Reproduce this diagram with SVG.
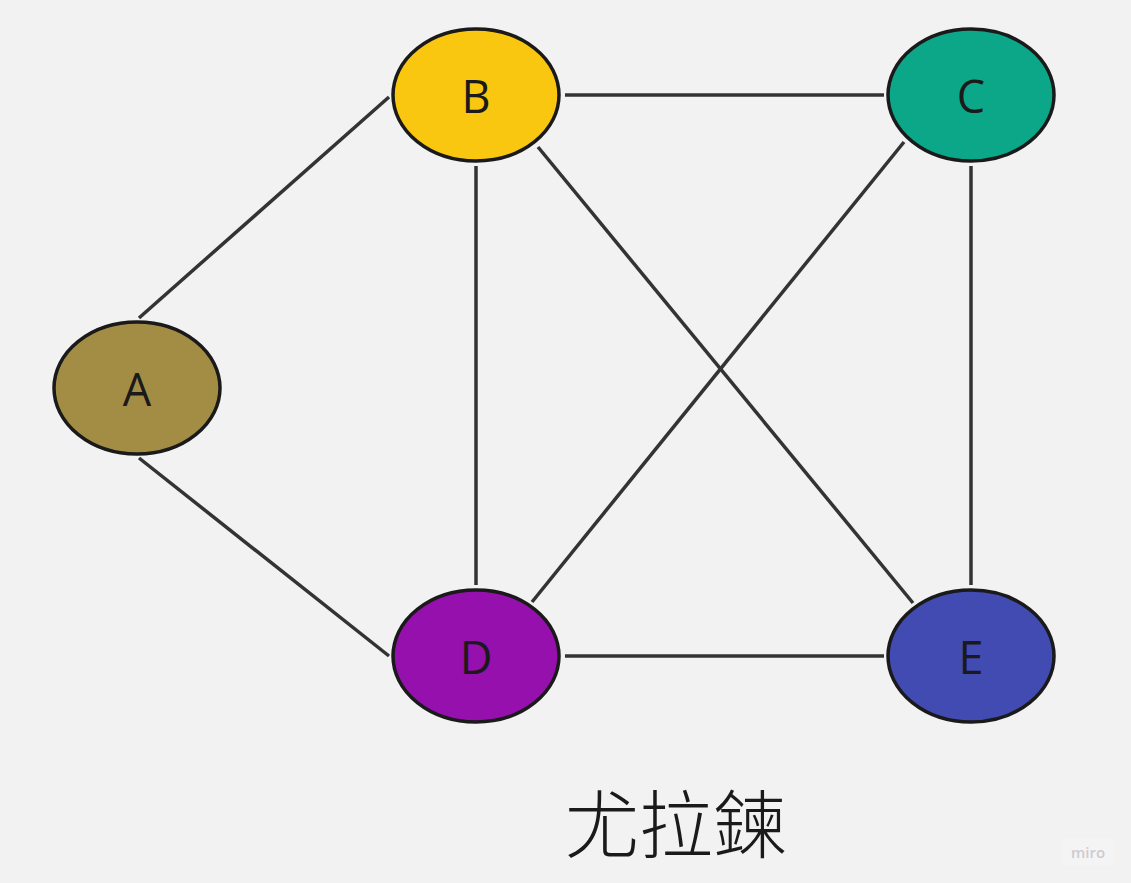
<svg xmlns="http://www.w3.org/2000/svg" width="1131" height="883" viewBox="0 0 1131 883">
<style>
.edge{stroke:#333333;stroke-width:3.5;fill:none}
.node ellipse{stroke:#1a1a1a;stroke-width:3.5}
.lbl{font-family:"Open Sans","Noto Sans",sans-serif;font-size:45px;fill:#1a1a1a;text-anchor:middle}
</style>
<rect width="1131" height="883" fill="#f2f2f2"/>
<g id="connectors">
<line class="edge" x1="139" y1="318" x2="389" y2="97"/>
<line class="edge" x1="139" y1="458" x2="389" y2="656"/>
<line class="edge" x1="565" y1="95" x2="884" y2="95"/>
<line class="edge" x1="476" y1="166" x2="476" y2="585"/>
<line class="edge" x1="538" y1="147" x2="913" y2="603"/>
<line class="edge" x1="904" y1="142" x2="532" y2="602"/>
<line class="edge" x1="971" y1="166" x2="971" y2="585"/>
<line class="edge" x1="565" y1="656" x2="884" y2="656"/>
</g>
<g id="node-A" class="node"><ellipse cx="137" cy="388" rx="83" ry="66" fill="#a38d45"/><text class="lbl" x="137" y="406">A</text></g>
<g id="node-B" class="node"><ellipse cx="476" cy="95" rx="83" ry="66" fill="#fac710"/><text class="lbl" x="476" y="113">B</text></g>
<g id="node-C" class="node"><ellipse cx="971" cy="95" rx="83" ry="66" fill="#0ca789"/><text class="lbl" x="971" y="113">C</text></g>
<g id="node-D" class="node"><ellipse cx="476" cy="656" rx="83" ry="66" fill="#9510ac"/><text class="lbl" x="476" y="674">D</text></g>
<g id="node-E" class="node"><ellipse cx="971" cy="656" rx="83" ry="66" fill="#414bb2"/><text class="lbl" x="971" y="674">E</text></g>
<g id="title"><text x="676" y="852" font-family="Noto Sans CJK TC, sans-serif" font-size="74" font-weight="300" fill="#1a1a1a" text-anchor="middle">尤拉鍊</text></g>
<g id="watermark"><rect x="1062" y="838" width="52" height="28" fill="#f4f4f4"/><text x="1088" y="858" font-family="Open Sans, sans-serif" font-size="15" font-weight="600" fill="#cccccf" text-anchor="middle">miro</text></g>
</svg>
